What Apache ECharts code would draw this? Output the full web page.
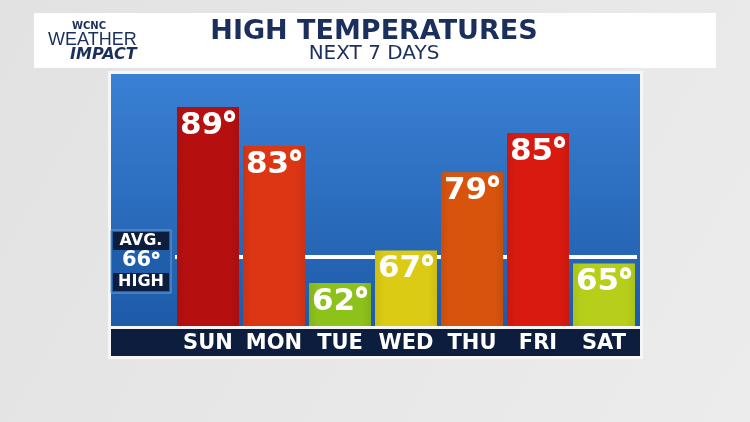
<!DOCTYPE html>
<html>
<head>
<meta charset="utf-8">
<script src="https://cdn.jsdelivr.net/npm/echarts@6/dist/echarts.min.js"></script>
<style>
html,body{margin:0;padding:0;background:#e6e6e6;}
#c{width:750px;height:422px;}
</style>
</head>
<body>
<div id="c"></div>
<script>
var days = ['SUN', 'MON', 'TUE', 'WED', 'THU', 'FRI', 'SAT'];
var highs = [89, 83, 62, 67, 79, 85, 65];
var barColors = ['#b5100f', '#dc3614', '#8dc21b', '#dccb15', '#d8540d', '#d91a10', '#b7cf1b'];
var avgHigh = 66;
var titleText = 'HIGH TEMPERATURES';
var subtitleText = 'NEXT 7 DAYS';

var chart = echarts.init(document.getElementById('c'), null, {renderer: 'canvas'});
var F = '"DejaVu Sans", "Open Sans", sans-serif';
var FD = '"Open Sans", sans-serif';

function shade(hex, f) {
  var n = parseInt(hex.slice(1), 16);
  var r = Math.round(((n >> 16) & 255) * f), g = Math.round(((n >> 8) & 255) * f), b = Math.round((n & 255) * f);
  return 'rgb(' + r + ',' + g + ',' + b + ')';
}

var barData = highs.map(function (v, i) {
  return {
    value: v,
    itemStyle: {
      color: {
        type: 'linear', x: 0, y: 0, x2: 1, y2: 0,
        colorStops: [
          {offset: 0, color: shade(barColors[i], 0.93)},
          {offset: 0.15, color: barColors[i]},
          {offset: 0.85, color: barColors[i]},
          {offset: 1, color: shade(barColors[i], 0.93)}
        ]
      }
    }
  };
});

var option = {
  animation: false,
  backgroundColor: {
    type: 'linear', x: 0, y: 0, x2: 1, y2: 1,
    colorStops: [{offset: 0, color: '#e2e2e2'}, {offset: 0.6, color: '#e8e8e8'}, {offset: 1, color: '#ececec'}]
  },
  graphic: [
    // header box
    {type: 'rect', z: -10, shape: {x: 34, y: 13, width: 682, height: 55}, style: {fill: '#ffffff'}},
    {type: 'text', z: 5, x: 374, y: 32, style: {text: titleText, fill: '#1b2f5c', font: 'bold 27px ' + F, align: 'center', verticalAlign: 'middle'}},
    {type: 'text', z: 5, x: 374, y: 54, style: {text: subtitleText, fill: '#1b2f5c', font: 'normal 20px ' + F, align: 'center', verticalAlign: 'middle'}},
    // logo
    {type: 'text', z: 5, x: 72, y: 26, style: {text: 'WCNC', fill: '#1b2f5c', font: 'bold 10px ' + F, verticalAlign: 'middle'}},
    {type: 'text', z: 5, x: 48, y: 40, style: {text: 'WEATHER', fill: '#1b2f5c', font: 'normal 18px "Liberation Sans Narrow", sans-serif', verticalAlign: 'middle'}},
    {type: 'text', z: 5, x: 70, y: 55, style: {text: 'IMPACT', fill: '#1b2f5c', font: 'italic bold 16px ' + F, verticalAlign: 'middle'}},
    // panel
    {type: 'rect', z: -10, shape: {x: 108, y: 71, width: 535, height: 288}, style: {fill: '#f6f6f6'}},
    {type: 'rect', z: -9, shape: {x: 111, y: 74, width: 529, height: 252},
      style: {fill: {type: 'linear', x: 0, y: 0, x2: 0, y2: 1, colorStops: [
        {offset: 0, color: '#3a80d4'}, {offset: 1, color: '#1d5ba8'}]}}},
    {type: 'rect', z: -9, shape: {x: 111, y: 329, width: 529, height: 27}, style: {fill: '#0c1d3e'}},
    // avg box
    {type: 'rect', z: 10, shape: {x: 111, y: 230, width: 60, height: 63}, style: {fill: '#1e5eab', stroke: '#6aa0dc', lineWidth: 1}},
    {type: 'rect', z: 11, shape: {x: 113, y: 232, width: 56, height: 18}, style: {fill: '#0c1d3e'}},
    {type: 'rect', z: 11, shape: {x: 113, y: 273, width: 56, height: 18}, style: {fill: '#0c1d3e'}},
    {type: 'text', z: 12, x: 141, y: 241, style: {text: 'AVG.', fill: '#ffffff', font: 'bold 16px ' + F, align: 'center', verticalAlign: 'middle'}},
    {type: 'text', z: 12, x: 141, y: 261, style: {text: '{n|' + avgHigh + '}{d|°}', fill: '#ffffff', align: 'center', verticalAlign: 'middle',
      rich: {n: {font: 'bold 21px ' + F, fill: '#ffffff'}, d: {font: '800 21px ' + FD, fill: '#ffffff'}}}},
    {type: 'text', z: 12, x: 141, y: 282, style: {text: 'HIGH', fill: '#ffffff', font: 'bold 16px ' + F, align: 'center', verticalAlign: 'middle'}}
  ],
  grid: {left: 175, width: 462, top: 74, height: 252, containLabel: false},
  xAxis: {
    type: 'category',
    data: days,
    axisLine: {show: false},
    axisTick: {show: false},
    axisLabel: {interval: 0, color: '#ffffff', fontFamily: F, fontWeight: 'bold', fontSize: 21, margin: 18, verticalAlign: 'middle'}
  },
  yAxis: {
    type: 'value', min: 55.4, max: 94.06,
    show: false,
    splitLine: {show: false}
  },
  series: [
    {
      type: 'line',
      data: [],
      z: 1,
      markLine: {
        silent: true,
        z: 1,
        symbol: 'none',
        label: {show: false},
        lineStyle: {color: '#ffffff', width: 4, type: 'solid', opacity: 1},
        data: [{yAxis: avgHigh}]
      }
    },
    {
      type: 'bar',
      z: 3,
      data: barData,
      barWidth: 62,
      label: {
        show: true,
        position: 'insideTop',
        distance: 3,
        formatter: '{n|{c}}{d|°}',
        color: '#ffffff',
        rich: {
          n: {fontFamily: F, fontWeight: 'bold', fontSize: 31, color: '#ffffff'},
          d: {fontFamily: FD, fontWeight: 800, fontSize: 31, color: '#ffffff', verticalAlign: 'top'}
        }
      }
    }
  ]
};
chart.setOption(option);
</script>
</body>
</html>
